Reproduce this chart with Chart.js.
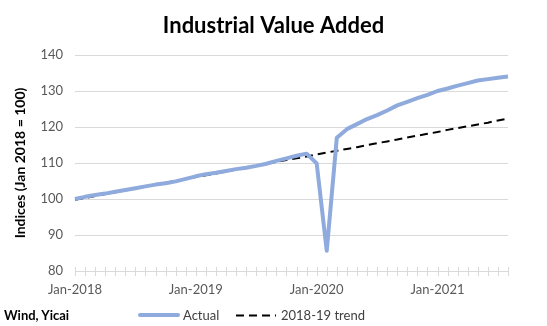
<!DOCTYPE html>
<html>
<head>
<meta charset="utf-8">
<script src="https://cdn.jsdelivr.net/npm/chart.js@4.4.0/dist/chart.umd.min.js"></script>
<style>
  body { margin: 0; background: #fff; }
  #wrap { position: relative; width: 547px; height: 326px; font-family: Lato, "Open Sans", sans-serif; }
  #src { position: absolute; left: 4px; top: 307px; font-size: 13px; font-weight: bold; color: #000; }
  .leg { position: absolute; top: 307px; font-size: 13px; color: #404040; }
  #sw1 { position: absolute; left: 138px; top: 313px; width: 42px; height: 4px; border-radius: 2px; background: rgb(143,170,220); }
  #sw2 { position: absolute; left: 236px; top: 314px; }
</style>
</head>
<body>
<div id="wrap">
  <canvas id="myChart" width="547" height="326"></canvas>
  <div id="src">Wind, Yicai</div>
  <div id="sw1"></div>
  <div class="leg" style="left:183px">Actual</div>
  <svg id="sw2" width="40" height="3"><line x1="0" y1="1.5" x2="40" y2="1.5" stroke="#000" stroke-width="2" stroke-dasharray="8,5"/></svg>
  <div class="leg" style="left:281px">2018-19 trend</div>
</div>
<script>
let months = [
  'Jan-2018','Feb-2018','Mar-2018','Apr-2018','May-2018','Jun-2018','Jul-2018','Aug-2018','Sep-2018','Oct-2018','Nov-2018','Dec-2018',
  'Jan-2019','Feb-2019','Mar-2019','Apr-2019','May-2019','Jun-2019','Jul-2019','Aug-2019','Sep-2019','Oct-2019','Nov-2019','Dec-2019',
  'Jan-2020','Feb-2020','Mar-2020','Apr-2020','May-2020','Jun-2020','Jul-2020','Aug-2020','Sep-2020','Oct-2020','Nov-2020','Dec-2020',
  'Jan-2021','Feb-2021','Mar-2021','Apr-2021','May-2021','Jun-2021','Jul-2021','Aug-2021'
];
let actual = [
  100.0, 100.6, 101.1, 101.5, 102.0, 102.5, 103.0, 103.5, 104.0, 104.4, 104.9, 105.6,
  106.3, 106.9, 107.3, 107.8, 108.3, 108.7, 109.2, 109.8, 110.6, 111.3, 112.0, 112.6,
  109.9, 85.6, 117.0, 119.4, 120.8, 122.2, 123.3, 124.6, 126.0, 127.0, 128.0, 128.9,
  130.0, 130.7, 131.5, 132.2, 132.9, 133.3, 133.7, 134.0
];
let trend = [
  99.8, 100.3, 100.8, 101.4, 101.9, 102.4, 102.9, 103.5, 104.0, 104.5, 105.0, 105.6,
  106.1, 106.6, 107.1, 107.6, 108.2, 108.7, 109.2, 109.7, 110.3, 110.8, 111.3, 111.8,
  112.4, 112.9, 113.4, 113.9, 114.4, 115.0, 115.5, 116.0, 116.5, 117.1, 117.6, 118.1,
  118.6, 119.2, 119.7, 120.2, 120.7, 121.2, 121.8, 122.3
];
let yTicks = [80, 90, 100, 110, 120, 130, 140];

// small crossing tick marks on the category axis
const crossTicks = {
  id: 'crossTicks',
  beforeDatasetsDraw(chart) {
    const x = chart.scales.x, ctx = chart.ctx, y0 = chart.chartArea.bottom;
    ctx.save();
    ctx.strokeStyle = '#d9d9d9';
    ctx.lineWidth = 1;
    x.ticks.forEach((t, i) => {
      const px = Math.round(x.getPixelForTick(i)) + 0.5;
      ctx.beginPath();
      ctx.moveTo(px, y0 - 4);
      ctx.lineTo(px, y0 + 5);
      ctx.stroke();
    });
    ctx.restore();
  }
};

var ctx = document.getElementById('myChart').getContext('2d');
var chart = new Chart(ctx, {
  type: 'line',
  data: {
    labels: months,
    datasets: [{
      label: 'Actual',
      data: actual,
      borderColor: 'rgb(143,170,220)',
      borderWidth: 4,
      pointRadius: 0,
      borderJoinStyle: 'round',
      tension: 0
    }, {
      label: '2018-19 trend',
      data: trend,
      borderColor: '#000',
      borderWidth: 2,
      borderDash: [8, 5],
      pointRadius: 0,
      tension: 0
    }]
  },
  options: {
    responsive: false,
    animation: false,
    layout: { padding: 0 },
    plugins: {
      legend: { display: false },
      tooltip: { enabled: false },
      title: {
        display: true,
        text: 'Industrial Value Added',
        color: '#000',
        font: { family: 'Lato', size: 22, weight: 'bold' },
        padding: { top: 13, bottom: 15.6 }
      }
    },
    scales: {
      x: {
        offset: false,
        grid: { display: false, drawTicks: false },
        border: { display: true, color: '#d9d9d9' },
        ticks: {
          autoSkip: false,
          maxRotation: 0,
          padding: 11,
          color: '#595959',
          font: { family: 'Lato', size: 13 },
          callback: function(v, i) { return i % 12 === 0 ? months[i] : ''; }
        },
        afterFit: function(s) { s.height = 55; }
      },
      y: {
        min: yTicks[0],
        max: yTicks[yTicks.length - 1],
        grid: { color: '#d9d9d9', drawTicks: false },
        border: { display: false },
        ticks: {
          stepSize: 10,
          padding: 12,
          color: '#595959',
          font: { family: 'Lato', size: 13 }
        },
        title: {
          display: true,
          text: 'Indices (Jan 2018 = 100)',
          color: '#000',
          font: { family: 'Lato', size: 14, weight: 'bold' },
          padding: { top: 12, bottom: 0 }
        },
        afterFit: function(s) { s.width = 75; }
      },
      // empty right axis, only keeps the plot clear of the right edge
      yRight: {
        position: 'right',
        min: yTicks[0],
        max: yTicks[yTicks.length - 1],
        grid: { display: false, drawTicks: false },
        border: { display: false },
        ticks: { display: false },
        afterFit: function(s) { s.width = 39; }
      }
    }
  },
  plugins: [crossTicks]
});
</script>
</body>
</html>
